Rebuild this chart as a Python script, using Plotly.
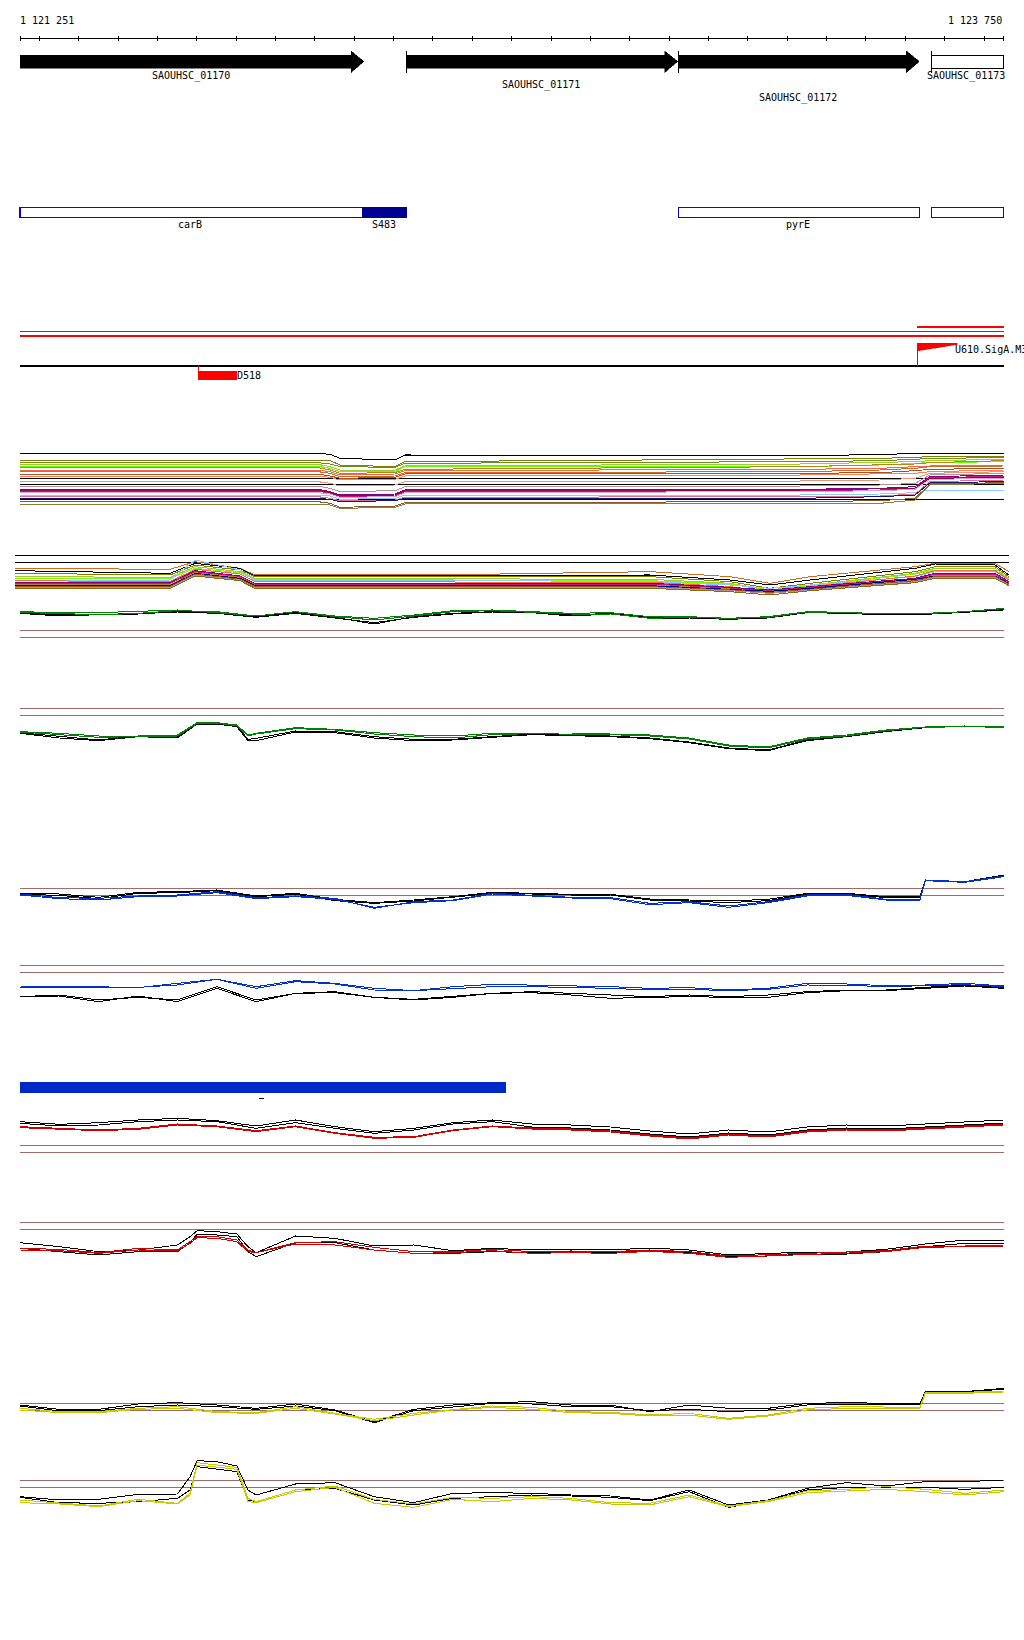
import plotly.graph_objects as go

FIG_W, FIG_H = 1024, 1640

# ---------------- genomic window ----------------
VIEW_START = 1121251
VIEW_END = 1123750

# ---------------- annotation data ----------------
GENE_NAMES = ["SAOUHSC_01170", "SAOUHSC_01171", "SAOUHSC_01172", "SAOUHSC_01173"]
GENE_STARTS = [1121251, 1122232, 1122923, 1123566]
GENE_ENDS = [1122125, 1122922, 1123536, 1123750]

OPERON_NAMES = ["carB", "S483", "pyrE", ""]
OPERON_STARTS = [1121251, 1122122, 1122923, 1123566]
OPERON_ENDS = [1122122, 1122233, 1123536, 1123750]

PROMOTER_NAME = "U610.SigA.M3"
PROMOTER_POS = 1123530
TERMINATOR_NAME = "D518"
TERMINATOR_START = 1121704
TERMINATOR_END = 1121802

RED_SPAN_STARTS = [1121251, 1121251, 1123530]
RED_SPAN_ENDS = [1123750, 1123750, 1123750]

BLUE_BAR_START = 1121251
BLUE_BAR_END = 1122485
DASH_START = 1121858
DASH_END = 1121871

RULER_TICKS = [1121251] + list(range(1121300, 1123701, 100)) + [1123750]

# ---------------- sampling positions (bp) ----------------
GRID_A = [1121251, 1121351, 1121451, 1121551, 1121651, 1121751, 1121851, 1121951, 1122051,
          1122151, 1122251, 1122351, 1122451, 1122551, 1122651, 1122751, 1122851, 1122951,
          1123051, 1123151, 1123251, 1123351, 1123451, 1123551, 1123651, 1123750]
GRID_B = [1121251, 1121351, 1121451, 1121551, 1121651, 1121751, 1121851, 1121951, 1122051,
          1122151, 1122251, 1122351, 1122451, 1122551, 1122651, 1122751, 1122851, 1122951,
          1123051, 1123151, 1123251, 1123351, 1123451, 1123537, 1123551, 1123651, 1123750]
GRID_C = [1121251, 1121351, 1121451, 1121551, 1121651, 1121683, 1121701, 1121751, 1121802,
          1121830, 1121851, 1121951, 1122051, 1122151, 1122251, 1122351, 1122451, 1122551,
          1122651, 1122751, 1122851, 1122951, 1123051, 1123151, 1123251, 1123351, 1123451,
          1123551, 1123651, 1123750]
T1_POS = [1121251, 1122008, 1122039, 1122064, 1122204, 1122229, 1123233, 1123436, 1123525,
          1123563, 1123750]
T2_POS = [1121238, 1121632, 1121696, 1121810, 1121848, 1122470, 1122852, 1123055, 1123156,
          1123258, 1123525, 1123576, 1123728, 1123763]

# ---------------- multi-sample track 1 ----------------
T1_COLORS = ["#000000", "#808000", "#6b8e23", "#9acd32", "#66ff00", "#b8860b", "#ff6347",
             "#d2691e", "#a0522d", "#ff7f50", "#e9967a", "#bc8f8f", "#800080", "#c71585",
             "#8b0a50", "#dda0dd", "#87cefa", "#db7093", "#191970", "#8b7d3a", "#8b5a2b"]
T1_VALUES = [
    [200, 200, 197, 185, 180, 195, 192, 197, 200, 200, 200],
    [180, 180, 178, 165, 160, 175, 182, 185, 188, 190, 190],
    [173, 172, 168, 160, 158, 170, 175, 178, 182, 185, 187],
    [167, 167, 160, 150, 150, 162, 168, 172, 175, 178, 182],
    [162, 162, 155, 145, 145, 160, 160, 165, 170, 172, 175],
    [157, 157, 150, 140, 142, 152, 160, 165, 168, 172, 178],
    [150, 150, 145, 135, 138, 148, 152, 155, 160, 162, 165],
    [145, 145, 140, 130, 132, 142, 145, 150, 155, 160, 162],
    [138, 138, 132, 125, 128, 138, 140, 142, 148, 152, 155],
    [132, 132, 128, 120, 122, 132, 135, 138, 140, 145, 150],
    [115, 115, 110, 102, 105, 115, 117, 120, 125, 140, 145],
    [102, 102, 95, 85, 88, 100, 102, 105, 110, 135, 140],
    [92, 92, 85, 75, 78, 90, 92, 95, 100, 130, 135],
    [87, 87, 80, 70, 72, 85, 88, 90, 95, 128, 130],
    [90, 90, 82, 72, 75, 88, 90, 92, 95, 125, 128],
    [82, 82, 78, 68, 70, 82, 85, 88, 92, 122, 125],
    [75, 75, 72, 62, 65, 75, 75, 78, 82, 90, 90],
    [70, 70, 65, 58, 60, 68, 70, 72, 78, 115, 120],
    [65, 65, 62, 55, 58, 65, 65, 70, 75, 112, 115],
    [47, 47, 45, 35, 38, 48, 48, 50, 60, 105, 110],
    [55, 55, 50, 38, 42, 52, 55, 58, 65, 108, 112],
]
T1_BLACK_LEVELS = [125, 107, 62]

# ---------------- multi-sample track 2 ----------------
T2_COLORS = ["#d2691e", "#000000", "#808000", "#9acd32", "#7cfc00", "#87cefa", "#ff6347",
             "#800080", "#c71585", "#b8860b", "#000080", "#a0522d", "#bc8f8f", "#8b6914"]
T2_VALUES = [
    [110, 107, 130, 110, 90, 93, 100, 85, 65, 85, 115, 125, 125, 100],
    [103, 95, 125, 110, 87, 90, 90, 75, 60, 75, 110, 123, 120, 90],
    [95, 90, 120, 105, 85, 85, 85, 70, 50, 65, 100, 115, 115, 85],
    [85, 83, 115, 100, 80, 77, 77, 65, 45, 60, 95, 110, 110, 80],
    [80, 80, 110, 97, 77, 75, 73, 63, 43, 57, 93, 105, 105, 77],
    [75, 75, 135, 105, 73, 73, 70, 60, 50, 60, 85, 100, 100, 75],
    [73, 70, 107, 93, 70, 70, 68, 55, 40, 55, 87, 103, 103, 75],
    [67, 67, 103, 87, 65, 65, 65, 53, 45, 55, 80, 95, 95, 70],
    [65, 65, 100, 85, 63, 63, 63, 50, 43, 53, 77, 93, 93, 67],
    [62, 60, 97, 83, 60, 60, 60, 48, 39, 50, 75, 90, 90, 65],
    [60, 58, 95, 80, 58, 60, 58, 47, 41, 50, 77, 87, 87, 65],
    [55, 55, 93, 77, 55, 57, 55, 45, 37, 47, 73, 85, 85, 63],
    [53, 53, 90, 75, 53, 53, 53, 43, 35, 45, 70, 83, 83, 60],
    [50, 50, 87, 73, 50, 50, 50, 40, 30, 43, 67, 80, 80, 58],
]
T2_BLACK_LEVELS = [149, 128]

# ---------------- paired tracks ----------------
T3_GREEN_1 = [85, 82, 82, 85, 90, 82, 72, 85, 72, 65, 75, 88, 90, 85, 80, 82, 70, 70, 65, 70, 85, 83, 78, 80, 85, 95]
T3_BLACK_1 = [82, 75, 78, 78, 85, 82, 70, 82, 68, 48, 70, 80, 85, 83, 75, 80, 68, 68, 63, 68, 83, 82, 76, 78, 84, 92]
T3_GREEN_2 = [82, 80, 75, 80, 88, 85, 72, 85, 70, 60, 72, 85, 88, 84, 78, 78, 65, 68, 65, 68, 84, 82, 78, 79, 85, 94]
T3_BLACK_2 = [80, 72, 76, 80, 84, 80, 68, 80, 66, 52, 68, 78, 84, 82, 72, 78, 66, 66, 62, 66, 82, 80, 75, 77, 83, 90]
T3_THRESH = [29, 8]

T4_GREEN_1 = [85, 80, 72, 72, 75, 100, 112, 112, 105, 75, 80, 97, 92, 82, 75, 72, 80, 81, 81, 78, 75, 66, 45, 39, 66, 75, 90, 99, 102, 99]
T4_BLACK_1 = [82, 70, 60, 72, 70, 95, 112, 112, 102, 62, 65, 87, 85, 70, 62, 62, 70, 78, 75, 72, 66, 54, 36, 30, 60, 72, 87, 99, 102, 102]
T4_GREEN_2 = [84, 76, 68, 70, 72, 97, 110, 110, 103, 72, 78, 94, 90, 78, 70, 66, 76, 79, 78, 76, 72, 63, 42, 36, 63, 72, 88, 98, 100, 98]
T4_BLACK_2 = [80, 66, 58, 70, 66, 92, 108, 108, 100, 58, 58, 84, 82, 66, 58, 60, 68, 76, 73, 70, 64, 52, 34, 28, 58, 70, 85, 97, 101, 101]
T4_THRESH = [155, 134]

T5_BLACK_1 = [80, 78, 68, 83, 85, 90, 72, 80, 62, 52, 60, 70, 83, 80, 77, 77, 63, 60, 57, 62, 80, 80, 70, 70, 120, 115, 135]
T5_BLUE_1 = [78, 67, 65, 72, 75, 85, 67, 72, 65, 35, 55, 60, 80, 75, 68, 67, 50, 55, 42, 55, 75, 77, 62, 62, 120, 115, 132]
T5_BLACK_2 = [77, 74, 64, 80, 82, 88, 70, 77, 58, 50, 57, 68, 80, 78, 75, 75, 60, 57, 52, 58, 78, 78, 67, 67, 118, 113, 133]
T5_BLUE_2 = [75, 64, 60, 70, 72, 82, 64, 70, 62, 38, 52, 58, 78, 72, 66, 64, 46, 52, 38, 52, 72, 74, 60, 60, 118, 113, 130]
T5_THRESH = [95, 74]

T6_BLUE_1 = [87, 85, 85, 83, 90, 107, 85, 103, 95, 80, 73, 85, 92, 90, 88, 85, 80, 82, 75, 80, 95, 93, 88, 90, 95, 87]
T6_BLUE_2 = [82, 82, 82, 82, 95, 107, 80, 100, 93, 75, 73, 80, 85, 85, 83, 80, 75, 77, 73, 77, 90, 89, 85, 87, 91, 85]
T6_BLACK_1 = [55, 60, 45, 53, 45, 85, 45, 65, 67, 53, 47, 55, 65, 70, 65, 60, 55, 60, 55, 60, 70, 75, 75, 83, 90, 82]
T6_BLACK_2 = [55, 57, 40, 57, 40, 80, 40, 65, 70, 53, 45, 53, 65, 67, 60, 50, 53, 55, 53, 53, 67, 73, 73, 80, 87, 80]
T6_THRESH = [149, 128]

T7_BLACK_1 = [115, 107, 112, 120, 125, 118, 102, 120, 100, 85, 95, 112, 120, 108, 105, 99, 87, 78, 90, 84, 99, 105, 102, 108, 114, 120]
T7_BLACK_2 = [110, 102, 105, 115, 120, 115, 95, 112, 95, 80, 90, 108, 115, 99, 96, 90, 78, 69, 81, 75, 90, 96, 93, 99, 105, 111]
T7_RED_1 = [100, 95, 90, 95, 108, 102, 88, 102, 82, 68, 70, 90, 102, 96, 93, 87, 75, 66, 78, 72, 87, 93, 90, 96, 102, 108]
T7_RED_2 = [97, 92, 88, 92, 105, 100, 85, 100, 80, 65, 68, 88, 100, 93, 90, 84, 72, 63, 75, 69, 84, 90, 87, 93, 99, 105]
T7_THRESH = [44, 23]

T8_BLACK_1 = [82, 70, 55, 60, 75, 100, 118, 115, 108, 70, 52, 102, 95, 72, 75, 58, 65, 60, 62, 60, 66, 60, 45, 50, 54, 54, 62, 78, 90, 90]
T8_BLACK_2 = [65, 55, 45, 55, 55, 82, 108, 105, 100, 55, 40, 82, 82, 60, 50, 50, 55, 52, 55, 52, 58, 52, 40, 42, 48, 48, 55, 70, 80, 80]
T8_RED_1 = [65, 62, 52, 65, 60, 85, 100, 100, 90, 60, 52, 82, 85, 68, 55, 55, 62, 55, 57, 55, 60, 55, 42, 46, 50, 52, 58, 72, 72, 75]
T8_RED_2 = [60, 58, 50, 60, 58, 80, 97, 95, 85, 55, 52, 78, 75, 60, 50, 52, 58, 50, 52, 50, 56, 50, 38, 42, 46, 50, 55, 68, 70, 72]
T8_THRESH = [143, 122]

T9_BLACK_1 = [90, 77, 77, 93, 97, 90, 80, 93, 75, 40, 77, 90, 97, 100, 90, 90, 70, 90, 80, 80, 95, 97, 95, 95, 130, 130, 140]
T9_BLACK_2 = [87, 72, 73, 85, 90, 85, 77, 87, 73, 37, 73, 85, 95, 93, 85, 85, 73, 77, 70, 75, 90, 92, 92, 92, 128, 128, 138]
T9_YELLOW_1 = [80, 70, 70, 80, 85, 70, 67, 85, 65, 47, 65, 77, 87, 83, 70, 68, 60, 65, 50, 60, 80, 85, 83, 83, 128, 128, 132]
T9_YELLOW_2 = [75, 67, 67, 77, 80, 67, 65, 80, 63, 43, 60, 75, 83, 77, 67, 65, 57, 60, 47, 57, 75, 80, 80, 80, 125, 125, 129]
T9_THRESH = [95, 74]

T10_BLACK_1 = [70, 60, 62, 77, 78, 130, 178, 175, 162, 90, 75, 108, 112, 70, 52, 80, 82, 80, 75, 72, 60, 90, 45, 60, 95, 112, 102, 115, 115, 120]
T10_BLACK_2 = [68, 52, 50, 55, 65, 90, 160, 152, 145, 60, 55, 90, 95, 60, 45, 65, 70, 75, 72, 68, 58, 85, 38, 58, 90, 98, 98, 98, 92, 98]
T10_YELLOW_1 = [60, 50, 42, 62, 50, 80, 172, 165, 158, 65, 55, 90, 102, 62, 48, 68, 65, 70, 65, 52, 50, 75, 42, 58, 87, 92, 100, 92, 80, 90]
T10_YELLOW_2 = [52, 48, 40, 58, 48, 75, 165, 158, 152, 55, 52, 85, 98, 50, 38, 62, 55, 65, 60, 48, 45, 70, 40, 55, 82, 87, 92, 85, 75, 85]
T10_THRESH = [120, 98]

# ---------------- styling / layout helpers ----------------
FONT = "DejaVu Sans Mono"
GREEN = "#008000"
BLUE = "#0030d0"
RED = "#d00000"
YELLOW = "#c8c800"
BROWN = "#a06a66"
BLACK = "#000000"

PX_PER_BP = (1003.7 - 20) / (VIEW_END - VIEW_START)
X_RANGE = [VIEW_START - 20 / PX_PER_BP, VIEW_START + (FIG_W - 20) / PX_PER_BP]


def P(px):
    return 1 - px / FIG_H


# track bands (top px, bottom px)
TRACKS = {
    "y2": (440, 520), "y3": (545, 605), "y4": (600, 640), "y5": (700, 760),
    "y6": (875, 920), "y7": (955, 1015), "y8": (1105, 1160), "y9": (1215, 1270),
    "y10": (1375, 1435), "y11": (1450, 1520),
}

fig = go.Figure()
shapes = []
annots = []


def line_trace(xs, ys, color, axis, width=1):
    fig.add_trace(go.Scatter(x=xs, y=ys, mode="lines", line=dict(color=color, width=width),
                             xaxis="x", yaxis=axis, hoverinfo="skip", showlegend=False))


def hline(axis, level, color, x0=VIEW_START, x1=VIEW_END):
    shapes.append(dict(type="line", xref="x", yref=axis, x0=x0, x1=x1, y0=level, y1=level,
                       line=dict(color=color, width=1), layer="below"))


def text(x, ypx, s, anchor="center", dx=0):
    annots.append(dict(x=x, y=P(ypx), xref="x", yref="paper", text=s, showarrow=False,
                       xanchor=anchor, yanchor="middle", xshift=dx,
                       font=dict(family=FONT, size=10, color="black")))


# ---------------- ruler ----------------
shapes.append(dict(type="line", xref="x", yref="paper", x0=VIEW_START, x1=VIEW_END,
                   y0=P(38.3), y1=P(38.3), line=dict(color=BLACK, width=1)))
for t in RULER_TICKS:
    shapes.append(dict(type="line", xref="x", yref="paper", x0=t, x1=t, y0=P(35.5), y1=P(41),
                       line=dict(color=BLACK, width=1)))
text(VIEW_START, 20, f"{VIEW_START:,}".replace(",", " "), "left", -2)
text(VIEW_END, 20, f"{VIEW_END:,}".replace(",", " "), "right", 0)

# ---------------- genes ----------------
HEAD_BP = 13 / PX_PER_BP
GENE_LABEL_Y = [76.5, 85, 97.5, 76.5]
for i, name in enumerate(GENE_NAMES):
    s, e = GENE_STARTS[i], GENE_ENDS[i]
    if e < VIEW_END:
        h = e - HEAD_BP
        path = (f"M {s},{P(55)} L {h},{P(55)} L {h},{P(51)} L {e},{P(61.5)} "
                f"L {h},{P(72.5)} L {h},{P(68)} L {s},{P(68)} Z")
        shapes.append(dict(type="path", xref="x", yref="paper", path=path,
                           fillcolor=BLACK, line=dict(color=BLACK, width=0.5)))
    else:
        shapes.append(dict(type="rect", xref="x", yref="paper", x0=s, x1=e, y0=P(68), y1=P(55),
                           fillcolor="white", line=dict(color=BLACK, width=1)))
    if s > VIEW_START:
        shapes.append(dict(type="line", xref="x", yref="paper", x0=s, x1=s, y0=P(51), y1=P(73),
                           line=dict(color=BLACK, width=1)))
    text((s + e) / 2, GENE_LABEL_Y[i], name, "center", -1)

# ---------------- operons ----------------
OPERON_FILLED = [False, True, False, False]
for i, name in enumerate(OPERON_NAMES):
    s, e = OPERON_STARTS[i], OPERON_ENDS[i]
    if OPERON_FILLED[i]:
        shapes.append(dict(type="rect", xref="x", yref="paper", x0=s, x1=e, y0=P(217.5), y1=P(207),
                           fillcolor="#000090", line=dict(color="#000090", width=1)))
    else:
        shapes.append(dict(type="rect", xref="x", yref="paper", x0=s, x1=e, y0=P(217.3), y1=P(207.3),
                           fillcolor="white", line=dict(color="#0000ff", width=1.3)))
    if name:
        text((s + e) / 2, 224.5, name, "center", -1)

# ---------------- red spans / promoter / terminator ----------------
RED_SPAN_Y = [331.3, 336, 327]
for i in range(len(RED_SPAN_STARTS)):
    shapes.append(dict(type="line", xref="x", yref="paper", x0=RED_SPAN_STARTS[i], x1=RED_SPAN_ENDS[i],
                       y0=P(RED_SPAN_Y[i]), y1=P(RED_SPAN_Y[i]), line=dict(color="#ff0000", width=1.2)))
shapes.append(dict(type="line", xref="x", yref="paper", x0=VIEW_START, x1=VIEW_END,
                   y0=P(366), y1=P(366), line=dict(color=BLACK, width=1.2)))
flag_end = PROMOTER_POS + 40 / PX_PER_BP
shapes.append(dict(type="line", xref="x", yref="paper", x0=PROMOTER_POS, x1=PROMOTER_POS,
                   y0=P(343), y1=P(366), line=dict(color="#ff0000", width=1)))
shapes.append(dict(type="path", xref="x", yref="paper",
                   path=f"M {PROMOTER_POS},{P(343)} L {flag_end},{P(343)} L {flag_end},{P(344.5)} "
                        f"L {PROMOTER_POS},{P(351)} Z",
                   fillcolor="#ff0000", line=dict(color="#ff0000", width=0.5)))
text(PROMOTER_POS + 37.5 / PX_PER_BP, 350, PROMOTER_NAME, "left", -2)
shapes.append(dict(type="line", xref="x", yref="paper", x0=TERMINATOR_START, x1=TERMINATOR_START,
                   y0=P(366), y1=P(372), line=dict(color="#ff0000", width=1)))
shapes.append(dict(type="rect", xref="x", yref="paper", x0=TERMINATOR_START, x1=TERMINATOR_END,
                   y0=P(379.7), y1=P(371), fillcolor="#ff0000", line=dict(width=0)))
text(TERMINATOR_END, 376, TERMINATOR_NAME, "left", -2)

# ---------------- blue bar ----------------
shapes.append(dict(type="rect", xref="x", yref="paper", x0=BLUE_BAR_START, x1=BLUE_BAR_END,
                   y0=P(1092.7), y1=P(1082), fillcolor="#0028c8", line=dict(width=0)))
shapes.append(dict(type="line", xref="x", yref="paper", x0=DASH_START, x1=DASH_END,
                   y0=P(1098.3), y1=P(1098.3), line=dict(color=BLACK, width=1)))

# ---------------- track 1 & 2 ----------------
for lvl in T1_BLACK_LEVELS:
    hline("y2", lvl, BLACK)
for vals, col in zip(T1_VALUES, T1_COLORS):
    line_trace(T1_POS, vals, col, "y2")
for lvl in T2_BLACK_LEVELS:
    hline("y3", lvl, BLACK, T2_POS[0], T2_POS[-1])
for vals, col in zip(T2_VALUES, T2_COLORS):
    line_trace(T2_POS, vals, col, "y3")

# ---------------- paired tracks ----------------
PAIRED = [
    ("y4", GRID_A, [(T3_BLACK_1, BLACK), (T3_BLACK_2, BLACK), (T3_GREEN_1, GREEN), (T3_GREEN_2, GREEN)], T3_THRESH),
    ("y5", GRID_C, [(T4_BLACK_1, BLACK), (T4_BLACK_2, BLACK), (T4_GREEN_1, GREEN), (T4_GREEN_2, GREEN)], T4_THRESH),
    ("y6", GRID_B, [(T5_BLACK_1, BLACK), (T5_BLACK_2, BLACK), (T5_BLUE_1, BLUE), (T5_BLUE_2, BLUE)], T5_THRESH),
    ("y7", GRID_A, [(T6_BLACK_1, BLACK), (T6_BLACK_2, BLACK), (T6_BLUE_1, BLUE), (T6_BLUE_2, BLUE)], T6_THRESH),
    ("y8", GRID_A, [(T7_BLACK_1, BLACK), (T7_BLACK_2, BLACK), (T7_RED_1, RED), (T7_RED_2, RED)], T7_THRESH),
    ("y9", GRID_C, [(T8_BLACK_1, BLACK), (T8_BLACK_2, BLACK), (T8_RED_1, RED), (T8_RED_2, RED)], T8_THRESH),
    ("y10", GRID_B, [(T9_BLACK_1, BLACK), (T9_BLACK_2, BLACK), (T9_YELLOW_1, YELLOW), (T9_YELLOW_2, YELLOW)], T9_THRESH),
    ("y11", GRID_C, [(T10_BLACK_1, BLACK), (T10_BLACK_2, BLACK), (T10_YELLOW_1, YELLOW), (T10_YELLOW_2, YELLOW)], T10_THRESH),
]
for axis, grid, series, thresh in PAIRED:
    for lvl in thresh:
        hline(axis, lvl, BROWN)
    for vals, col in series:
        line_trace(grid, vals, col, axis)

# ---------------- axes ----------------
layout_axes = {}
for axis, (top, bottom) in TRACKS.items():
    key = "yaxis" + axis[1:]
    layout_axes[key] = dict(domain=[P(bottom), P(top)], range=[0, 3 * (bottom - top)],
                            visible=False, fixedrange=True, anchor="x")

fig.update_layout(
    width=FIG_W, height=FIG_H,
    margin=dict(l=0, r=0, t=0, b=0),
    paper_bgcolor="white", plot_bgcolor="white",
    showlegend=False,
    xaxis=dict(range=X_RANGE, visible=False, fixedrange=True),
    yaxis=dict(range=[0, 1], visible=False, fixedrange=True),
    shapes=shapes, annotations=annots,
    **layout_axes,
)

POST = (
    "document.body.style.margin='0px';document.body.style.overflow='hidden';"
    "document.querySelectorAll('.scatterlayer path, .shapelayer path')"
    ".forEach(function(p){p.style.shapeRendering='crispEdges';});"
)
fig.write_html("out.html", config={"displayModeBar": False}, post_script=POST)
